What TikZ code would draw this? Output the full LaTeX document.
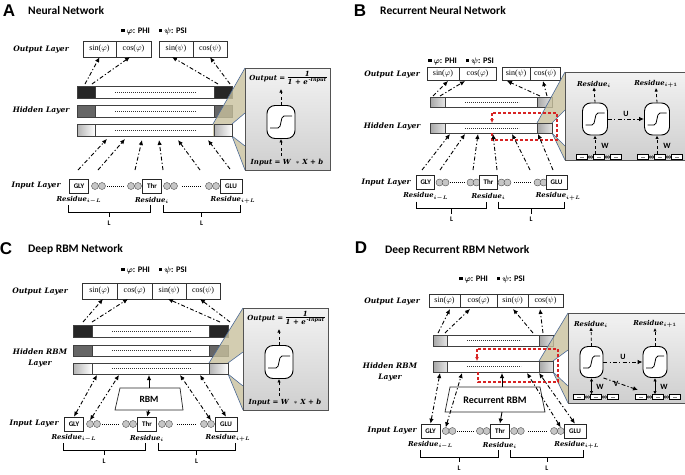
\documentclass[tikz,border=0pt]{standalone}
\usepackage{fontspec}
\usepackage{amsmath,bm}
\setmainfont{Liberation Serif}
\newfontfamily\carl{Carlito}
\newfontfamily\arl{Liberation Sans}
\newfontfamily\djs{DejaVu Serif}
\usetikzlibrary{arrows.meta,calc}
\definecolor{khaki}{RGB}{200,193,158}
\definecolor{fblue}{RGB}{75,105,150}
\definecolor{rcol}{RGB}{215,35,35}
\newcommand{\lblfont}{\djs\bfseries\itshape\fontsize{7.5}{8.5}\selectfont}
\newcommand{\resfont}{\djs\bfseries\itshape\fontsize{6.8}{8}\selectfont}
\newcommand{\ttlfont}{\carl\bfseries\fontsize{11.5}{13}\selectfont}
\newcommand{\letfont}{\arl\bfseries\fontsize{17}{19}\selectfont}
\newcommand{\legfont}{\carl\bfseries\fontsize{8.5}{10}\selectfont}
\newcommand{\cellfont}{\fontsize{8}{9}\selectfont}
\newcommand{\boxfont}{\carl\bfseries\fontsize{7}{8}\selectfont}
\newcommand{\zfont}{\djs\bfseries\itshape\fontsize{7}{8}\selectfont}
\newcommand{\legtext}{\rule[1pt]{3.5pt}{3.5pt}\ $\bm{\varphi}$: PHI\hspace{9pt}\rule[1pt]{3.5pt}{3.5pt}\ $\bm{\psi}$: PSI}
\tikzset{
 arr/.style={-{Latex[length=5pt,width=4.5pt]}, line width=0.9pt},
 darr/.style={{Latex[length=5pt,width=4.5pt]}-{Latex[length=5pt,width=4.5pt]}, line width=0.9pt},
 sarr/.style={-{Latex[length=3.5pt,width=3.5pt]}, line width=0.8pt},
 sdarr/.style={{Latex[length=3.5pt,width=3.5pt]}-{Latex[length=3.5pt,width=3.5pt]}, line width=0.8pt},
 dd/.style={dash pattern=on 4pt off 2.2pt on 1.2pt off 2.2pt},
 dsh/.style={dash pattern=on 3pt off 2.5pt},
 barline/.style={line width=0.5pt, draw=black!75},
 obox/.style={draw=black!80, line width=0.5pt, inner sep=0pt, font=\cellfont},
 lay/.style={font=\lblfont, inner sep=0pt, align=center},
 ttl/.style={font=\ttlfont, inner sep=0pt, anchor=west},
 letnode/.style={font=\letfont, inner sep=0pt},
 leg/.style={font=\legfont, inner sep=0pt},
 resbox/.style={draw=black!85, line width=0.7pt, fill=white, font=\boxfont, minimum height=14pt, inner sep=0pt},
 circ/.style={circle, draw=black!70, line width=0.4pt, fill=gray!45, minimum size=7pt, inner sep=0pt},
 reslbl/.style={font=\resfont, inner sep=0pt},
 brk/.style={line width=0.7pt},
 Lnode/.style={font=\carl\bfseries\fontsize{7}{8}\selectfont, inner sep=0pt},
 zbox/.style={draw=gray!65!black, line width=0.6pt, top color=gray!10, bottom color=gray!38},
 neuron/.style={draw=black, line width=0.9pt, fill=white, rounded corners=8pt, inner sep=0pt},
 fun/.style={fill=khaki, fill opacity=0.8, draw=none},
 funl/.style={draw=fblue, line width=0.6pt},
 rdash/.style={draw=rcol, line width=1.1pt, dash pattern=on 3pt off 2pt},
 dotline/.style={line width=0.6pt, dash pattern=on 0.8pt off 1.2pt},
 wl/.style={font=\carl\bfseries\fontsize{8}{9}\selectfont, inner sep=0pt},
 trap/.style={draw=black!85, line width=0.7pt, fill=white},
 dark/.style={fill=black!85},
 mid/.style={fill=black!60},
 light/.style={left color=gray!60, right color=white},
 gbl/.style={left color=gray!70, right color=gray!20},
}
% bar: x1 x2 ytop ybot leftstyle rightstyle blockwidth
\newcommand{\mybar}[7]{%
 \draw[barline, fill=white] (#1,#3) rectangle (#2,#4);
 \draw[barline, #5] (#1,#3) rectangle ({#1+#7},#4);
 \draw[barline, #6] ({#2-#7},#3) rectangle (#2,#4);
 \draw[dotline, gray!40!black] ({#1+#7+20},{(#3+#4)/2}) -- ({#2-#7-18},{(#3+#4)/2});
}
% funnel: bx1 bx2 yt yb Bx BYt BYb wYt wYb
\newcommand{\funnel}[9]{%
 \fill[fun] (#1,#3) -- (#5,#6) -- (#5,#7) -- (#2,#4) -- (#1,#4) -- cycle;
 \fill[white] (#2,#3) -- (#5,#8) -- (#5,#9) -- (#2,#4) -- cycle;
 \draw[funl] (#1,#3) -- (#5,#6);
 \draw[funl] (#2,#4) -- (#5,#7);
 \draw[funl] (#2,#3) -- (#5,#8);
 \draw[funl] (#2,#4) -- (#5,#9);
}
% neuron: name x y w h
\newcommand{\neuron}[5]{%
 \node[neuron, minimum width=#4pt, minimum height=#5pt] (#1) at (#2,#3) {};
 \draw[line width=0.8pt] ({#2-#4/2+3},{#3+6}) -- ({#2-3},{#3+6}) .. controls ({#2+1},{#3+6}) and ({#2-1},{#3-6}) .. ({#2+3},{#3-6}) -- ({#2+#4/2-3},{#3-6});
}
% chain: x y
\newcommand{\chain}[2]{%
 \begin{scope}[shift={(#1,#2)}]
 \foreach \bx in {0,17,34}{\draw[fill=white, line width=0.4pt] (\bx,-2.6) rectangle ++(11.5,5.2); \draw[line width=0.4pt, gray] ({\bx+4},0) -- ({\bx+7.5},0);}
 \foreach \cx in {13.1,15.6,30.1,32.6}{\draw[fill=gray!50, line width=0.3pt] (\cx,0) circle (1.3);}
 \end{scope}}
% sigmoid zoom box: prefix x1 y1
\newcommand{\sigbox}[3]{%
 \draw[zbox] (#2,#3) rectangle ({#2+85},{#3+102});
 \node[font=\zfont, inner sep=0pt] (#1out) at ({#2+43},{#3+11}) {Output = \begin{tabular}{@{}c@{}}1\\[-1.5pt]\hline\rule{0pt}{7pt}1 + e\textsuperscript{\,-Input}\end{tabular}};
 \neuron{#1sig}{#2+36}{#3+54}{28}{33}
 \coordinate (#1top) at ({#2+36},{#3+21});
 \coordinate (#1bot) at ({#2+36},{#3+88});
 \draw[sarr, dsh] (#1sig.north) -- (#1top);
 \draw[sarr, dsh] (#1bot) -- (#1sig.south);
 \node[font=\zfont, inner sep=0pt] (#1inp) at ({#2+42},{#3+95}) {Input = W \ $*$\ X + b};
}
% input row: x0 y scale prefix boxw
\newcommand{\inrow}[5]{%
\begin{scope}[shift={(#1,#2)}, xscale=#3]
 \node[resbox, minimum width=#5pt] (#4gly) at (9,0) {GLY};
 \node[circ] (#4c1) at (25,0) {}; \node[circ] (#4c2) at (32,0) {};
 \draw[dotline] (37,0) -- (54,0);
 \node[circ] (#4c3) at (61,0) {}; \node[circ] (#4c4) at (68,0) {};
 \node[resbox, minimum width=#5pt] (#4thr) at (82,0) {Thr};
 \node[circ] (#4c5) at (97,0) {}; \node[circ] (#4c6) at (104,0) {};
 \draw[dotline] (112,0) -- (131,0);
 \node[circ] (#4c7) at (139,0) {}; \node[circ] (#4c8) at (146,0) {};
 \node[resbox, minimum width=#5pt+3pt] (#4glu) at (161,0) {GLU};
 \node[reslbl] (#4r1) at (9,14) {Residue$_{\bm{i-L}}$};
 \node[reslbl] (#4r2) at (82,14) {Residue$_{\bm{i}}$};
 \node[reslbl] (#4r3) at (163,14) {Residue$_{\bm{i+L}}$};
 \draw[brk] (-2,19) -- (-2,26) -- (80,26) -- (80,19);
 \draw[brk] (39,26) -- (39,31);
 \node[Lnode] (#4L1) at (39,37) {L};
 \draw[brk] (93,19) -- (93,26) -- (170,26) -- (170,19);
 \draw[brk] (131.5,26) -- (131.5,31);
 \node[Lnode] (#4L2) at (131.5,37) {L};
\end{scope}}

\begin{document}
\begin{tikzpicture}[x=1pt,y=-1pt]
\useasboundingbox[fill=white] (0,0) rectangle (685,474);

%================ PANEL A ================
\node[letnode] (Alet) at (9,11) {A};
\node[ttl] (Attl) at (28,11) {Neural Network};
\node[leg] (Aleg) at (154,31) {\legtext};
\node[lay] (Aout) at (41,50) {Output Layer};
\node[obox, minimum width=33pt, minimum height=16pt] (As1) at (99.5,49) {sin($\varphi$)};
\node[obox, minimum width=35pt, minimum height=16pt] (Ac1) at (133.5,49) {cos($\varphi$)};
\node[obox, minimum width=34pt, minimum height=16pt] (As2) at (176,49) {sin($\psi$)};
\node[obox, minimum width=34pt, minimum height=16pt] (Ac2) at (210,49) {cos($\psi$)};
\mybar{77}{232}{86}{98}{dark}{dark}{18}
\mybar{77}{232}{105}{117}{mid}{mid}{18}
\mybar{77}{232}{124}{136}{light}{light}{18}
\node[lay] (Ahid) at (41,110) {Hidden Layer};
\funnel{213}{232}{124}{136}{245}{68}{170}{113}{146}
\draw[barline, light] (214,124) rectangle (232,136);
\sigbox{A}{245}{68}
\draw[arr,dd] (85,84) -- (As1.south);
\draw[arr,dd] (92,84) -- (130,57);
\draw[arr,dd] (218,84) -- (172,57);
\draw[arr,dd] (230,84) -- (Ac2.south);
\node[lay] (Ain) at (36,186) {Input Layer};
\inrow{70}{186}{1}{A}{19}
\draw[arr,dd] (78,170) -- (107,139);
\draw[arr,dd] (98,170) -- (125,139);
\draw[arr,dd] (135,170) -- (142,140);
\draw[arr,dd] (163,170) -- (159,140);
\draw[arr,dd] (200,170) -- (178,140);
\draw[arr,dd] (230,169) -- (208,140);

%================ PANEL B ================
\node[letnode] (Blet) at (360,11) {B};
\node[ttl] (Bttl) at (380,11) {Recurrent Neural Network};
\node[leg] (Bleg) at (461,61) {\legtext};
\node[lay] (Bout) at (392,75) {Output Layer};
\node[obox, minimum width=32pt, minimum height=13pt] (Bs1) at (443,74) {sin($\varphi$)};
\node[obox, minimum width=37pt, minimum height=13pt] (Bc1) at (477.5,74) {cos($\varphi$)};
\node[obox, minimum width=28pt, minimum height=13pt] (Bs2) at (516,74) {sin($\psi$)};
\node[obox, minimum width=30pt, minimum height=13pt] (Bc2) at (545,74) {cos($\psi$)};
\mybar{430}{552}{97}{107}{gbl}{gbl}{15}
\mybar{430}{552}{123}{133}{gbl}{gbl}{15}
\node[lay] (Bhid) at (392,126) {Hidden Layer};
\funnel{537}{552}{123}{133}{565}{72}{160}{110}{146}
\draw[barline, gbl] (537,123) rectangle (552,133);
\draw[zbox] (565,72) rectangle (685,160);
\node[reslbl] (BRi) at (594,84) {Residue$_{\bm{i}}$};
\node[reslbl] (BRj) at (656,84) {Residue$_{\bm{i+1}}$};
\neuron{Bn1}{595}{119}{25}{32}
\neuron{Bn2}{657}{119}{25}{32}
\draw[sarr, dsh] (Bn1.north) -- (BRi.south);
\draw[sarr, dsh] (Bn2.north) -- (BRj.south);
\draw[arr, dd] (Bn1.east) -- node[wl, above=2pt] (BU) {U} (Bn2.west);
\chain{576}{157}
\chain{637}{157}
\coordinate (Bw1) at (595,154);
\coordinate (Bw2) at (657,154);
\draw[sarr, dsh] (Bw1) -- (Bn1.south);
\draw[sarr, dsh] (Bw2) -- (Bn2.south);
\node[wl] (BW1) at (605,146) {W};
\node[wl] (BW2) at (667,146) {W};
\draw[rdash] (492,133) -- (492,140) -- (557,140) -- (557,113) -- (492,113);
\draw[rdash, -{Latex[length=4pt,width=4pt]}] (492,113) -- (492,123);
\draw[arr,dd] (433,96) -- (448,81);
\draw[arr,dd] (440,96) -- (465,81);
\draw[arr,dd] (540,96) -- (507,81);
\draw[arr,dd] (547,96) -- (543,81);
\node[lay] (Bin) at (386,183) {Input Layer};
\inrow{418}{182.5}{0.86}{B}{18}
\draw[arr,dd] (422,170) -- (450,134);
\draw[arr,dd] (440,170) -- (465,134);
\draw[arr,dd] (473,170) -- (478,134);
\draw[arr,dd] (497,170) -- (493,134);
\draw[arr,dd] (530,170) -- (512,134);
\draw[arr,dd] (553,170) -- (538,134);

%================ PANEL C ================
\node[letnode] (Clet) at (6,249) {C};
\node[ttl] (Cttl) at (28,249) {Deep RBM Network};
\node[leg] (Cleg) at (154,270) {\legtext};
\node[lay] (Cout) at (40,292) {Output Layer};
\node[obox, minimum width=35pt, minimum height=16pt] (Cs1) at (99.5,291) {sin($\varphi$)};
\node[obox, minimum width=35pt, minimum height=16pt] (Cc1) at (134.5,291) {cos($\varphi$)};
\node[obox, minimum width=34pt, minimum height=16pt] (Cs2) at (169,291) {sin($\psi$)};
\node[obox, minimum width=34pt, minimum height=16pt] (Cc2) at (203,291) {cos($\psi$)};
\mybar{73}{228}{325}{337}{dark}{dark}{19}
\mybar{73}{228}{345}{356}{mid}{mid}{19}
\mybar{73}{228}{363}{374}{light}{light}{19}
\node[lay] (Chid) at (40,358) {Hidden RBM\\[2pt]Layer};
\funnel{209}{228}{363}{374}{243}{308}{410}{352}{386}
\draw[barline, light] (209,363) rectangle (228,374);
\sigbox{C}{243}{308}
\draw[arr,dd] (83,322) -- (103,299);
\draw[arr,dd] (92,322) -- (128,299);
\draw[arr,dd] (220,322) -- (168,299);
\draw[arr,dd] (230,322) -- (200,299);
\draw[trap] (120,388) -- (180,388) -- (183,410) -- (115,410) -- cycle;
\node[font=\carl\bfseries\fontsize{9.5}{11}\selectfont] (Crbm) at (149,399) {RBM};
\node[lay] (Cin) at (34,424) {Input Layer};
\inrow{65}{424}{1}{C}{19}
\draw[arr] (149,388) -- (149,375);
\draw[arr] (149,410) -- (Cthr.north);
\draw[darr,dd] (Cgly.north) -- (97,375);
\draw[darr,dd] (Cc1.north) -- (119,375);
\draw[darr,dd] (Cc8.north) -- (180,375);
\draw[darr,dd] (Cglu.north) -- (200,375);

%================ PANEL D ================
\node[letnode] (Dlet) at (361,248) {D};
\node[ttl] (Dttl) at (385,250) {Deep Recurrent RBM Network};
\node[leg] (Dleg) at (492,279) {\legtext};
\node[lay] (Dout) at (392,302) {Output Layer};
\node[obox, minimum width=31pt, minimum height=13pt] (Ds1) at (444.5,301) {sin($\varphi$)};
\node[obox, minimum width=37pt, minimum height=13pt] (Dc1) at (478.5,301) {cos($\varphi$)};
\node[obox, minimum width=31pt, minimum height=13pt] (Ds2) at (512.5,301) {sin($\psi$)};
\node[obox, minimum width=35pt, minimum height=13pt] (Dc2) at (545.5,301) {cos($\psi$)};
\mybar{433}{553}{335}{346}{gbl}{gbl}{14}
\mybar{433}{553}{361}{372}{gbl}{gbl}{14}
\node[lay] (Dhid) at (390,372) {Hidden RBM\\[2pt]Layer};
\funnel{539}{553}{361}{372}{568}{313}{403}{350}{386}
\draw[barline, gbl] (539,361) rectangle (553,372);
\draw[zbox] (568,313) rectangle (685,403);
\node[reslbl] (DRi) at (591,324) {Residue$_{\bm{i}}$};
\node[reslbl] (DRj) at (655,324) {Residue$_{\bm{i+1}}$};
\neuron{Dn1}{591.5}{362}{23}{31}
\neuron{Dn2}{655}{362}{24}{31}
\draw[sarr, dsh] (Dn1.north) -- (DRi.south);
\draw[sarr, dsh] (Dn2.north) -- (DRj.south);
\draw[arr, dd] (Dn1.east) -- node[wl, above=2pt] (DU) {U} (Dn2.west);
\coordinate (Dv) at (638,390);
\draw[arr, dd] (Dn1.south east) -- (Dv);
\node[wl] (DV) at (616,384) {V};
\chain{573}{397}
\chain{635}{397}
\coordinate (Dw1) at (591.5,394.5);
\coordinate (Dw2) at (655,394.5);
\draw[sdarr] (Dw1) -- (Dn1.south);
\draw[sdarr] (Dw2) -- (Dn2.south);
\node[wl] (DW1) at (600,387) {W};
\node[wl] (DW2) at (664,387) {W};
\draw[rdash] (478,372) -- (478,382) -- (558,382) -- (558,349) -- (477,349);
\draw[rdash, -{Latex[length=4pt,width=4pt]}] (477,349) -- (477,361);
\draw[arr,dd] (438,333) -- (450,309);
\draw[arr,dd] (445,333) -- (470,309);
\draw[arr,dd] (533,333) -- (513,309);
\draw[arr,dd] (543,333) -- (540,309);
\draw[trap] (450,387) -- (540,387) -- (545,412) -- (445,412) -- cycle;
\node[font=\carl\bfseries\fontsize{10}{12}\selectfont] (Drbm) at (495,400) {Recurrent RBM};
\node[lay] (Din) at (392,431) {Input Layer};
\inrow{422}{431}{0.95}{D}{19}
\draw[arr] (502,387) -- (502,373);
\draw[arr] (502,412) -- (Dthr.north);
\draw[darr,dd] (Dgly.north) -- (440,373);
\draw[darr,dd] (Dc1.north) -- (462,373);
\draw[darr,dd] (Dc8.north) -- (527,373);
\draw[darr,dd] (Dglu.north) -- (539,373);
\end{tikzpicture}
\end{document}
